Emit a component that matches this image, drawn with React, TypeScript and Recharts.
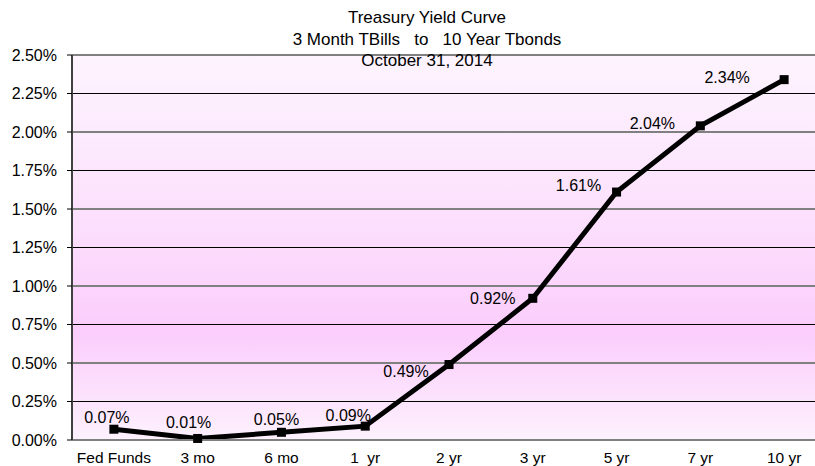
import { CartesianGrid, LabelList, Line, LineChart, ReferenceLine, XAxis, YAxis } from "recharts";

// Treasury yields, 31 Oct 2014 (percent)
const terms = ["Fed Funds", "3 mo", "6 mo", "1\u00a0 yr", "2 yr", "3 yr", "5 yr", "7 yr", "10 yr"];
const yields = [0.07, 0.01, 0.05, 0.09, 0.49, 0.92, 1.61, 2.04, 2.34];
const yTicks = [0, 0.25, 0.5, 0.75, 1, 1.25, 1.5, 1.75, 2, 2.25, 2.5];
// band edges for the x-axis tick marks (between categories)
const edgeTicks = [0, 1, 2, 3, 4, 5, 6, 7, 8, 9];

// hand-placed label offsets, as in the source spreadsheet
const labelNudge = [
  [-7, -12], [-9, -16], [-5, -13], [-17, -11], [-43, 7],
  [-40, 0], [-38, -7], [-48, -2], [-57, -2],
];

const data = terms.map((term, i) => ({ term, y: yields[i] }));

const FONT = "'Liberation Sans', Arial, sans-serif";
const pct = (v: number) => `${v.toFixed(2)}%`;

function SquareDot(props: any) {
  const { cx, cy } = props;
  if (cx == null || cy == null) return null;
  return <rect x={cx - 4.5} y={cy - 4.5} width={9} height={9} fill="#000" />;
}

function PointLabel(props: any) {
  const { x, y, value, index } = props;
  const [dx, dy] = labelNudge[index] ?? [0, -12];
  return (
    <text x={x + dx} y={y + dy} textAnchor="middle" dominantBaseline="central" fontSize={16} fontFamily={FONT} fill="#000">
      {pct(Number(value))}
    </text>
  );
}

const titleStyle: React.CSSProperties = {
  position: "absolute",
  left: 227,
  width: 400,
  textAlign: "center",
  fontFamily: FONT,
  fontSize: 17,
  lineHeight: "20px",
  color: "#000",
  whiteSpace: "pre",
};

export default function App() {
  return (
    <div style={{ position: "absolute", left: 0, top: 0, width: 815, height: 466, overflow: "hidden", background: "#fff" }}>
      <LineChart width={826} height={466} data={data} margin={{ top: 55, right: 0, left: 0, bottom: 0 }}>
        <defs>
          <linearGradient id="plotBg" x1="0" y1="0" x2="0" y2="1">
            <stop offset="0%" stopColor="#fdf4fe" />
            <stop offset="35%" stopColor="#fce4fd" />
            <stop offset="72%" stopColor="#fbcdfc" />
            <stop offset="100%" stopColor="#fdf1fd" />
          </linearGradient>
        </defs>
        <CartesianGrid fill="url(#plotBg)" horizontal={false} vertical={false} />
        <XAxis xAxisId="edges" type="number" domain={[0, 9]} ticks={edgeTicks} allowDataOverflow
          tickFormatter={() => ""} axisLine={false} tickLine={{ stroke: "#808080", strokeWidth: 1.5 }} tickSize={4} height={0} />
        <XAxis xAxisId="cat" dataKey="term" scale="band" height={26} interval={0}
          axisLine={{ stroke: "#808080", strokeWidth: 2 }} tickLine={false}
          tick={{ fontSize: 15.5, fontFamily: FONT, fill: "#000" }} tickMargin={6} />
        <YAxis domain={[0, 2.5]} ticks={yTicks} width={72} interval={0}
          tickFormatter={pct} axisLine={{ stroke: "#404040", strokeWidth: 2 }}
          tickLine={{ stroke: "#000" }} tickSize={5} tickMargin={10}
          tick={{ fontSize: 16, fontFamily: FONT, fill: "#000" }} />
        {yTicks.slice(1).map((t, i) => (
          <ReferenceLine key={t} y={t} xAxisId="cat"
            stroke={i % 2 === 0 ? "#000" : "#808080"} strokeWidth={i % 2 === 0 ? 1 : 2} />
        ))}
        <Line xAxisId="cat" dataKey="y" stroke="#000" strokeWidth={5} dot={<SquareDot />}
          activeDot={false} isAnimationActive={false}>
          <LabelList dataKey="y" content={<PointLabel />} />
        </Line>
      </LineChart>
      <div style={{ ...titleStyle, top: 8 }}>Treasury Yield Curve</div>
      <div style={{ ...titleStyle, top: 30 }}>{"3 Month TBills   to   10 Year Tbonds"}</div>
      <div style={{ ...titleStyle, top: 51 }}>October 31, 2014</div>
    </div>
  );
}
